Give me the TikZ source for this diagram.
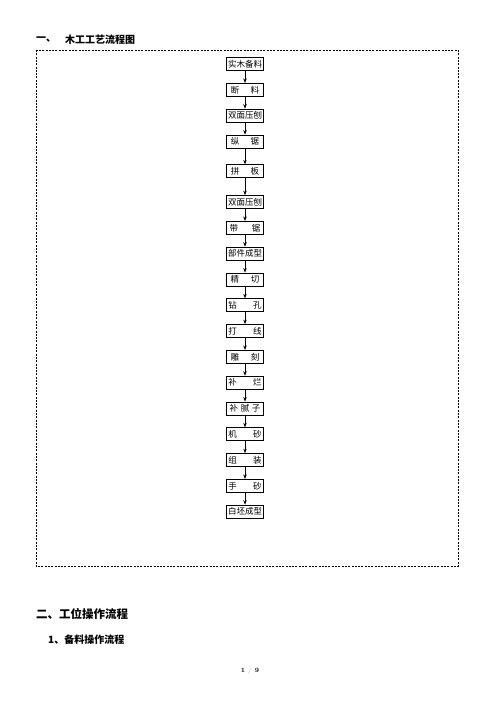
\documentclass[tikz,border=0pt]{standalone}
\usepackage{fontspec}
\newfontfamily\cjk{Noto Sans CJK SC}
\usepackage{xcolor}
\usetikzlibrary{positioning,arrows.meta}

\begin{document}
\begin{tikzpicture}[
    x=1pt, y=-1pt,
    node distance=12.1pt,
    stepbox/.style={rectangle, draw, line width=0.7pt, minimum width=37pt, minimum height=13pt, inner sep=0pt, font=\cjk\fontsize{8.5}{9}\selectfont},
    arrow/.style={-{Stealth[length=4.5pt, width=3.5pt]}, line width=0.7pt},
    heading/.style={anchor=west, inner sep=0pt, font=\cjk\bfseries\fontsize{10}{12}\selectfont},
    frame/.style={line width=0.7pt, dash pattern=on 2pt off 1.3pt}
]
\useasboundingbox (0,0) rectangle (496,702);

% Title and dashed frame
\node[heading] (num1) at (36,40) {一、};
\node[heading] (title1) at (65,40) {木工工艺流程图};
\draw[frame] (36,50) rectangle (458,566);

% Process steps
\node[stepbox] (beiliao) at (245,64) {实木备料};
\node[stepbox, below=of beiliao] (duanliao) {断\hspace{1.3em}料};
\node[stepbox, below=of duanliao] (yabao1) {双面压刨};
\node[stepbox, below=of yabao1] (zongju) {纵\hspace{1.3em}锯};
\node[stepbox, below=16.1pt of zongju] (pinban) {拼\hspace{1.3em}板};
\node[stepbox, below=17.1pt of pinban] (yabao2) {双面压刨};
\node[stepbox, below=of yabao2] (daiju) {带\hspace{1.6em}锯};
\node[stepbox, below=of daiju] (chengxing) {部件成型};
\node[stepbox, below=of chengxing] (jingqie) {精\hspace{1.4em}切};
\node[stepbox, below=of jingqie] (zuankong) {钻\hspace{1.9em}孔};
\node[stepbox, below=of zuankong] (daxian) {打\hspace{1.9em}线};
\node[stepbox, below=of daxian] (diaoke) {雕\hspace{1.4em}刻};
\node[stepbox, below=of diaoke] (bulan) {补\hspace{1.9em}烂};
\node[stepbox, below=of bulan] (buni) {补\hspace{0.3em}腻\hspace{0.3em}子};
\node[stepbox, below=of buni] (jisha) {机\hspace{1.9em}砂};
\node[stepbox, below=of jisha] (zuzhuang) {组\hspace{1.9em}装};
\node[stepbox, below=of zuzhuang] (shousha) {手\hspace{1.9em}砂};
\node[stepbox, below=of shousha] (baipi) {白坯成型};

% Arrows between steps
\draw[arrow] (beiliao) -- (duanliao);
\draw[arrow] (duanliao) -- (yabao1);
\draw[arrow] (yabao1) -- (zongju);
\draw[arrow] (zongju) -- (pinban);
\draw[arrow] (pinban) -- (yabao2);
\draw[arrow] (yabao2) -- (daiju);
\draw[arrow] (daiju) -- (chengxing);
\draw[arrow] (chengxing) -- (jingqie);
\draw[arrow] (jingqie) -- (zuankong);
\draw[arrow] (zuankong) -- (daxian);
\draw[arrow] (daxian) -- (diaoke);
\draw[arrow] (diaoke) -- (bulan);
\draw[arrow] (bulan) -- (buni);
\draw[arrow] (buni) -- (jisha);
\draw[arrow] (jisha) -- (zuzhuang);
\draw[arrow] (zuzhuang) -- (shousha);
\draw[arrow] (shousha) -- (baipi);

% Section headings below the frame
\node[heading, font=\cjk\bfseries\fontsize{11.5}{13}\selectfont] (title2) at (36,614) {二、工位操作流程};
\node[heading] (title3) at (48,640) {1、备料操作流程};

% Page number
\node[inner sep=0pt, font=\bfseries\fontsize{6.5}{8}\selectfont] (pageno) at (250,671) {1 \textcolor{black!25}{/} 9};
\end{tikzpicture}
\end{document}
